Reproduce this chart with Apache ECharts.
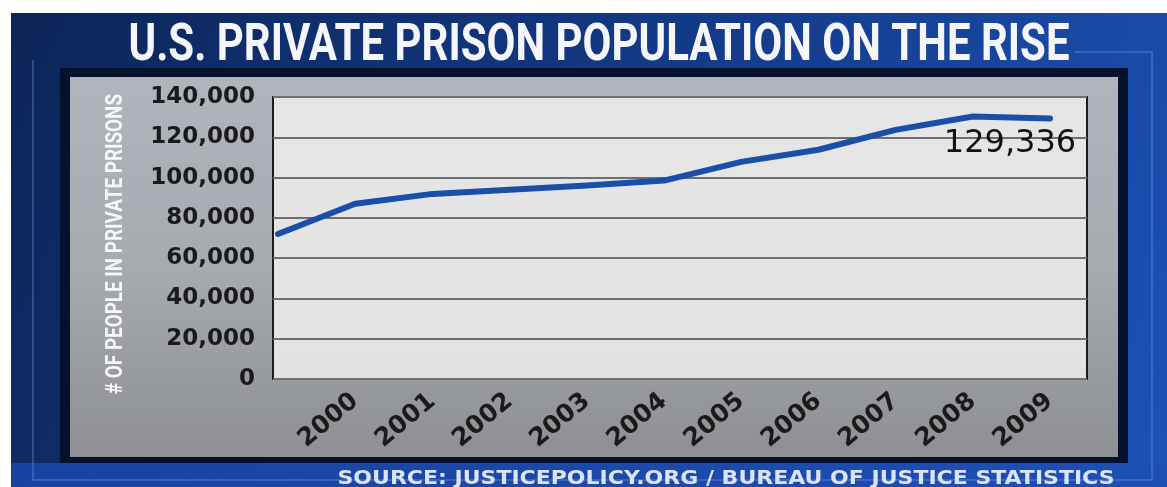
<!DOCTYPE html>
<html>
<head>
<meta charset="utf-8">
<script src="https://cdn.jsdelivr.net/npm/echarts@6/dist/echarts.min.js"></script>
<style>
html,body{margin:0;padding:0;background:#ffffff;}
#chart{width:1167px;height:487px;}
</style>
</head>
<body>
<div id="chart"></div>
<script>
// ---- data ----
const years = [1999, 2000, 2001, 2002, 2003, 2004, 2005, 2006, 2007, 2008, 2009];
const population = [72000, 87000, 91900, 94000, 96100, 98500, 107800, 113800, 123700, 130300, 129336];
const tickYears = [2000, 2001, 2002, 2003, 2004, 2005, 2006, 2007, 2008, 2009];
const titleText = 'U.S. PRIVATE PRISON POPULATION ON THE RISE';
const yAxisTitle = '# OF PEOPLE IN PRIVATE PRISONS';
const sourceText = 'SOURCE: JUSTICEPOLICY.ORG / BUREAU OF JUSTICE STATISTICS';
const annotatedValue = 129336;

const fmt = v => Number(v).toLocaleString('en-US');

const seriesData = years.map((y, i) => {
  const item = { value: [y, population[i]] };
  if (i === years.length - 1) {
    item.label = {
      show: true,
      position: 'bottom',
      distance: 8,
      offset: [-40, 0],
      formatter: () => fmt(annotatedValue),
      fontFamily: 'DejaVu Sans',
      fontSize: 32,
      color: '#111111'
    };
  }
  return item;
});

const chart = echarts.init(document.getElementById('chart'), null, { renderer: 'canvas' });

const option = {
  animation: false,
  backgroundColor: '#ffffff',
  graphic: [
    {
      type: 'rect', z: -10,
      shape: { x: 11, y: 13, width: 1156, height: 474 },
      style: {
        fill: { type: 'linear', x: 0, y: 0, x2: 1, y2: 1, colorStops: [
          { offset: 0, color: '#0c2558' },
          { offset: 0.5, color: '#133a86' },
          { offset: 1, color: '#1d52b8' }
        ] }
      }
    },
    {
      type: 'rect', z: -9,
      shape: { x: 11, y: 463, width: 1156, height: 24 },
      style: { fill: { type: 'linear', x: 0, y: 0, x2: 1, y2: 0, colorStops: [
        { offset: 0, color: '#1943a0' }, { offset: 1, color: '#1d4fb4' }
      ] } }
    },
    {
      type: 'polyline', z: -8,
      shape: { points: [[1075, 52], [1152, 52], [1152, 480], [33, 480], [33, 60]] },
      style: { stroke: 'rgba(110,150,235,0.45)', lineWidth: 1.5, fill: null }
    },
    {
      type: 'rect', z: -7,
      shape: { x: 60, y: 68, width: 1068, height: 395 },
      style: { fill: '#06112c' }
    },
    {
      type: 'rect', z: -6,
      shape: { x: 70, y: 77, width: 1048, height: 380 },
      style: { fill: { type: 'linear', x: 0, y: 0, x2: 0, y2: 1, colorStops: [
        { offset: 0, color: '#b0b4bc' },
        { offset: 0.5, color: '#a7aaaf' },
        { offset: 1, color: '#8d8f93' }
      ] } }
    },
    {
      type: 'text', z: 10,
      x: 599, y: 47, scaleX: 0.807,
      style: {
        text: titleText,
        font: 'bold 52px Roboto',
        fill: '#f4f6fb',
        textAlign: 'center',
        textVerticalAlign: 'middle'
      }
    },
    {
      type: 'text', z: 10,
      x: 116, y: 244, rotation: Math.PI / 2, scaleX: 0.82,
      style: {
        text: yAxisTitle,
        font: 'bold 23px Roboto',
        fill: '#f7f7f7',
        textAlign: 'center',
        textVerticalAlign: 'middle'
      }
    },
    {
      type: 'text', z: 10,
      x: 726, y: 479, scaleX: 1.1,
      style: {
        text: sourceText,
        font: 'bold 20px "DejaVu Sans"',
        fill: '#dbe4f6',
        textAlign: 'center',
        textVerticalAlign: 'middle'
      }
    }
  ],
  grid: {
    left: 273, right: 80, top: 97, bottom: 108,
    show: true,
    backgroundColor: { type: 'linear', x: 0, y: 0, x2: 0, y2: 1, colorStops: [
      { offset: 0, color: '#e6e6e6' }, { offset: 1, color: '#e2e2e2' }
    ] },
    borderColor: '#1c1c1c',
    borderWidth: 2
  },
  xAxis: {
    type: 'value',
    min: 1998.935,
    max: 2009.479,
    axisLine: { show: false },
    axisTick: { show: false },
    splitLine: { show: false },
    axisLabel: {
      customValues: tickYears,
      formatter: v => String(Math.round(v)),
      rotate: 40,
      margin: 19,
      fontFamily: 'DejaVu Sans',
      fontWeight: 'bold',
      fontSize: 25,
      color: '#1a1a1a'
    }
  },
  yAxis: {
    type: 'value',
    min: 0, max: 140000, interval: 20000,
    axisLine: { show: false },
    axisTick: { show: false },
    splitLine: { show: true, lineStyle: { color: '#6f6f6f', width: 2 } },
    axisLabel: {
      formatter: v => fmt(v),
      margin: 18,
      fontFamily: 'DejaVu Sans',
      fontWeight: 'bold',
      fontSize: 23,
      color: '#1a1a1a'
    }
  },
  series: [{
    type: 'line',
    data: seriesData,
    showSymbol: true,
    symbol: 'circle',
    symbolSize: 2,
    itemStyle: { color: '#1b4ea8' },
    lineStyle: { color: '#1b4ea8', width: 6, cap: 'round', join: 'round' },
    label: { show: false },
    z: 5
  }]
};

chart.setOption(option);
</script>
</body>
</html>
